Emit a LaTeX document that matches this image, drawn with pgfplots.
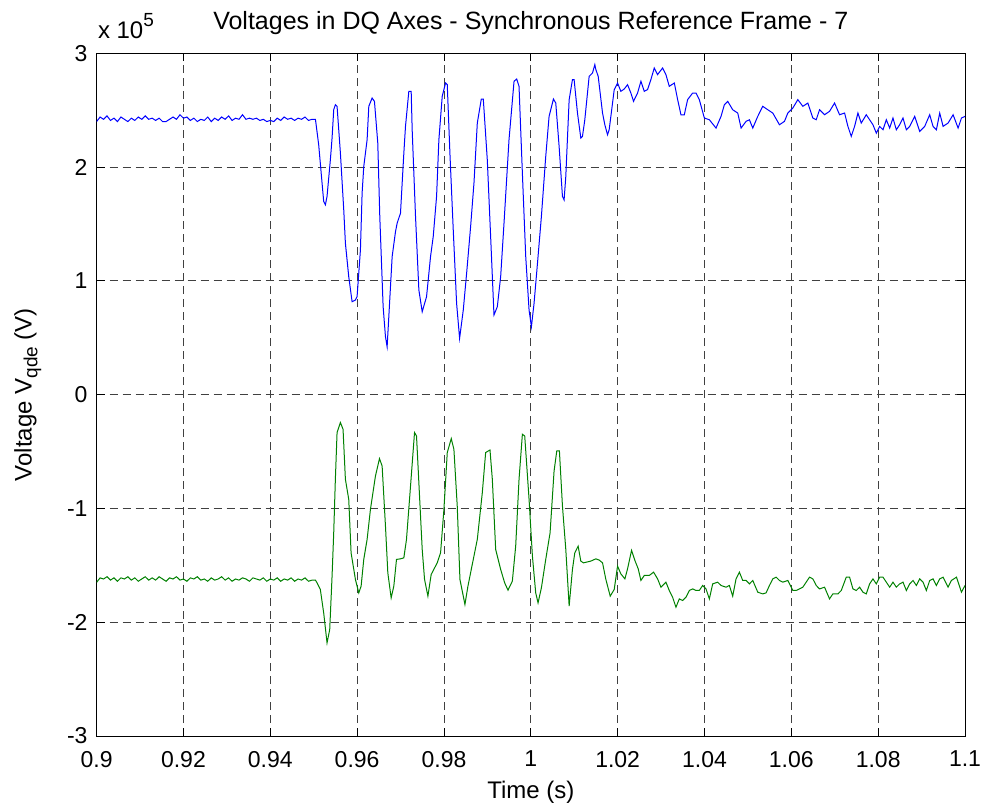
\documentclass[border=0pt]{standalone}
\usepackage{fontspec}
\setmainfont{Liberation Sans}
\usepackage{pgfplots}
\pgfplotsset{compat=1.18}

\definecolor{mblue}{RGB}{0,0,255}
\definecolor{mgreen}{RGB}{0,128,0}

\begin{document}
\begin{tikzpicture}
\begin{axis}[
    at={(0,0)}, anchor=south west,
    scale only axis,
    width=434.2pt, height=341.35pt,
    xmin=0.9, xmax=1.1,
    ymin=-3, ymax=3,
    xtick={0.9,0.92,0.94,0.96,0.98,1,1.02,1.04,1.06,1.08,1.1},
    xticklabels={0.9,0.92,0.94,0.96,0.98,1,1.02,1.04,1.06,1.08,1.1},
    ytick={-3,-2,-1,0,1,2,3},
    yticklabels={-3,-2,-1,0,1,2,3},
    tick align=inside,
    xtick pos=both, ytick pos=both,
    major tick length=4pt,
    tick style={black, line width=0.4pt},
    grid=major,
    major grid style={black!75, line width=0.4pt, dash pattern=on 4pt off 2.5pt},
    axis line style={black, line width=0.5pt},
    every tick label/.append style={font=\fontsize{11.5}{13}\selectfont},
    xticklabel style={yshift=-4pt},
    yticklabel style={xshift=-1pt},
    title={Voltages in DQ Axes - Synchronous Reference Frame - 7},
    title style={font=\fontsize{12.5}{14}\selectfont, yshift=0pt},
    xlabel={Time (s)},
    ylabel={Voltage V\raisebox{-0.45ex}{\fontsize{9.5}{10}\selectfont qde} (V)},
    label style={font=\fontsize{12}{14}\selectfont},
    xlabel style={yshift=0pt},
    ylabel style={yshift=6pt},
    clip=true,
]

% Vq (x 10^5 V)
\addplot[mblue, line width=0.5pt] coordinates {
(0.9000,2.40)(0.9008,2.44)(0.9016,2.42)(0.9024,2.45)(0.9032,2.41)(0.9040,2.43)(0.9048,2.40)(0.9056,2.44)
(0.9064,2.42)(0.9072,2.40)(0.9080,2.43)(0.9088,2.41)(0.9096,2.44)(0.9104,2.42)(0.9112,2.45)(0.9120,2.42)
(0.9128,2.43)(0.9136,2.41)(0.9144,2.43)(0.9152,2.40)(0.9160,2.40)(0.9168,2.42)(0.9176,2.44)(0.9184,2.42)
(0.9192,2.46)(0.9200,2.43)(0.9208,2.44)(0.9216,2.41)(0.9224,2.43)(0.9232,2.40)(0.9240,2.42)(0.9248,2.41)
(0.9256,2.44)(0.9264,2.40)(0.9272,2.43)(0.9280,2.41)(0.9288,2.44)(0.9296,2.42)(0.9304,2.45)(0.9312,2.41)
(0.9320,2.43)(0.9328,2.42)(0.9336,2.46)(0.9344,2.42)(0.9352,2.43)(0.9360,2.42)(0.9368,2.43)(0.9376,2.41)
(0.9384,2.42)(0.9392,2.40)(0.9400,2.41)(0.9408,2.40)(0.9416,2.43)(0.9424,2.41)(0.9432,2.44)(0.9440,2.42)
(0.9448,2.43)(0.9456,2.41)(0.9464,2.43)(0.9472,2.42)(0.9480,2.44)(0.9488,2.41)(0.9496,2.42)(0.9504,2.42)
(0.95115,2.196)(0.95230,1.698)(0.95269,1.668)(0.95307,1.742)(0.95384,2.064)(0.95423,2.255)(0.95461,2.504)
(0.95499,2.548)(0.95538,2.534)(0.95615,2.123)(0.95692,1.624)(0.95730,1.331)(0.95807,1.037)(0.95884,0.817)
(0.95961,0.832)(0.95999,0.861)(0.96076,1.272)(0.96115,1.771)(0.96153,2.006)(0.96230,2.240)(0.96269,2.534)
(0.96345,2.607)(0.96399,2.578)(0.96476,2.211)(0.96522,1.566)(0.96599,0.773)(0.96653,0.509)(0.96691,0.421)
(0.96730,0.685)(0.96807,1.214)(0.96884,1.433)(0.96922,1.507)(0.96999,1.595)(0.97076,2.123)(0.97114,2.358)
(0.97191,2.666)(0.97245,2.666)(0.97268,2.328)(0.97345,1.566)(0.97422,0.920)(0.97499,0.729)(0.97599,0.861)
(0.97691,1.214)(0.97753,1.390)(0.97830,1.742)(0.97883,2.240)(0.97960,2.622)(0.98037,2.739)(0.98076,2.725)
(0.98137,2.123)(0.98214,1.448)(0.98291,0.803)(0.98360,0.495)(0.98445,0.744)(0.98522,1.067)(0.98614,1.478)
(0.98691,1.859)(0.98768,2.387)(0.98860,2.598)(0.98906,2.598)(0.98998,2.064)(0.99075,1.390)(0.99152,0.700)
(0.99229,0.773)(0.99306,1.037)(0.99383,1.507)(0.99498,2.240)(0.99614,2.754)(0.99675,2.774)(0.99729,2.710)
(0.99806,1.947)(0.99883,1.214)(0.99960,0.744)(1.00014,0.597)(1.00075,0.803)(1.00167,1.214)(1.00244,1.566)
(1.00344,2.094)(1.00421,2.446)(1.00521,2.598)(1.00575,2.563)(1.00652,2.182)(1.00729,1.742)(1.00767,1.712)
(1.00806,1.918)(1.00883,2.592)(1.00959,2.768)(1.00998,2.768)(1.01075,2.475)(1.01152,2.255)(1.01190,2.270)
(1.01244,2.416)(1.01344,2.798)(1.01421,2.827)(1.01475,2.901)(1.01498,2.857)(1.01552,2.798)(1.01652,2.475)
(1.01705,2.372)(1.01767,2.284)(1.01805,2.328)(1.01921,2.680)(1.01998,2.739)(1.02074,2.666)(1.02151,2.686)
(1.02228,2.724)(1.02305,2.651)(1.02366,2.578)(1.02459,2.651)(1.02536,2.754)(1.02613,2.666)(1.02689,2.681)
(1.02766,2.769)(1.02843,2.871)(1.02920,2.813)(1.03035,2.871)(1.03112,2.813)(1.03189,2.710)(1.03305,2.739)
(1.03382,2.593)(1.03458,2.460)(1.03535,2.460)(1.03612,2.593)(1.03728,2.651)(1.03804,2.651)(1.03881,2.593)
(1.03997,2.431)(1.04112,2.416)(1.04266,2.343)(1.04381,2.446)(1.04458,2.548)(1.04535,2.578)(1.04650,2.504)
(1.04766,2.475)(1.04843,2.343)(1.04958,2.402)(1.05035,2.416)(1.05112,2.343)(1.05227,2.446)(1.05342,2.534)
(1.05458,2.504)(1.05573,2.475)(1.05727,2.372)(1.05842,2.402)(1.05919,2.475)(1.06035,2.519)(1.06150,2.593)
(1.06265,2.534)(1.06381,2.563)(1.06496,2.431)(1.06573,2.416)(1.06650,2.504)(1.06765,2.460)(1.06880,2.490)
(1.06996,2.563)(1.07111,2.460)(1.07227,2.475)(1.07303,2.358)(1.07380,2.270)(1.07457,2.358)(1.07534,2.475)
(1.07611,2.387)(1.07726,2.460)(1.07803,2.416)(1.07880,2.372)(1.07957,2.299)(1.08034,2.358)(1.08111,2.328)
(1.08188,2.416)(1.08265,2.343)(1.08341,2.431)(1.08418,2.328)(1.08495,2.372)(1.08572,2.431)(1.08649,2.328)
(1.08726,2.358)(1.08841,2.446)(1.08957,2.314)(1.09072,2.358)(1.09187,2.460)(1.09264,2.358)(1.09341,2.328)
(1.09418,2.475)(1.09495,2.358)(1.09610,2.387)(1.09726,2.460)(1.09841,2.343)(1.09918,2.431)(1.10000,2.446)
};

% Vd (x 10^5 V)
\addplot[mgreen, line width=0.5pt] coordinates {
(0.9000,-1.65)(0.9008,-1.61)(0.9016,-1.62)(0.9024,-1.60)(0.9032,-1.63)(0.9040,-1.61)(0.9048,-1.64)(0.9056,-1.61)
(0.9064,-1.62)(0.9072,-1.60)(0.9080,-1.63)(0.9088,-1.61)(0.9096,-1.64)(0.9104,-1.62)(0.9112,-1.60)(0.9120,-1.63)
(0.9128,-1.61)(0.9136,-1.63)(0.9144,-1.60)(0.9152,-1.62)(0.9160,-1.64)(0.9168,-1.61)(0.9176,-1.62)(0.9184,-1.60)
(0.9192,-1.63)(0.9200,-1.62)(0.9208,-1.64)(0.9216,-1.61)(0.9224,-1.62)(0.9232,-1.60)(0.9240,-1.63)(0.9248,-1.62)
(0.9256,-1.64)(0.9264,-1.61)(0.9272,-1.63)(0.9280,-1.62)(0.9288,-1.60)(0.9296,-1.63)(0.9304,-1.61)(0.9312,-1.64)
(0.9320,-1.62)(0.9328,-1.63)(0.9336,-1.61)(0.9344,-1.62)(0.9352,-1.64)(0.9360,-1.61)(0.9368,-1.62)(0.9376,-1.63)
(0.9384,-1.61)(0.9392,-1.64)(0.9400,-1.62)(0.9408,-1.63)(0.9416,-1.61)(0.9424,-1.64)(0.9432,-1.62)(0.9440,-1.63)
(0.9448,-1.61)(0.9456,-1.64)(0.9464,-1.62)(0.9472,-1.63)(0.9480,-1.61)(0.9488,-1.64)(0.9496,-1.63)(0.9504,-1.63)
(0.95077,-1.654)(0.95153,-1.712)(0.95230,-1.918)(0.95307,-2.182)(0.95369,-2.064)(0.95423,-1.595)(0.95461,-1.214)
(0.95499,-0.744)(0.95538,-0.333)(0.95615,-0.245)(0.95676,-0.304)(0.95730,-0.744)(0.95807,-0.920)(0.95861,-1.390)
(0.95961,-1.624)(0.96038,-1.742)(0.96092,-1.683)(0.96153,-1.448)(0.96230,-1.272)(0.96307,-1.008)(0.96422,-0.715)
(0.96515,-0.562)(0.96576,-0.627)(0.96653,-1.155)(0.96707,-1.566)(0.96784,-1.786)(0.96845,-1.683)(0.96907,-1.448)
(0.96999,-1.443)(0.97076,-1.434)(0.97137,-1.272)(0.97230,-0.803)(0.97322,-0.333)(0.97368,-0.363)(0.97422,-0.774)
(0.97499,-1.360)(0.97553,-1.624)(0.97630,-1.771)(0.97706,-1.580)(0.97845,-1.478)(0.97922,-1.390)(0.97999,-1.008)
(0.98076,-0.509)(0.98168,-0.386)(0.98229,-0.480)(0.98306,-0.979)(0.98368,-1.624)(0.98483,-1.844)(0.98552,-1.683)
(0.98652,-1.492)(0.98768,-1.272)(0.98883,-0.862)(0.98960,-0.509)(0.99060,-0.486)(0.99114,-0.744)(0.99191,-1.360)
(0.99306,-1.536)(0.99398,-1.654)(0.99475,-1.718)(0.99575,-1.639)(0.99652,-1.331)(0.99729,-0.744)(0.99806,-0.348)
(0.99860,-0.363)(0.99960,-0.920)(1.00037,-1.419)(1.00113,-1.742)(1.00167,-1.830)(1.00244,-1.698)(1.00344,-1.448)
(1.00444,-1.214)(1.00536,-0.671)(1.00598,-0.495)(1.00659,-0.495)(1.00729,-0.979)(1.00806,-1.360)(1.00883,-1.859)
(1.00959,-1.536)(1.01013,-1.390)(1.01090,-1.331)(1.01152,-1.463)(1.01213,-1.478)(1.01382,-1.463)(1.01498,-1.443)
(1.01575,-1.454)(1.01652,-1.478)(1.01729,-1.624)(1.01829,-1.771)(1.01921,-1.712)(1.01998,-1.507)(1.02074,-1.575)
(1.02167,-1.619)(1.02228,-1.531)(1.02320,-1.369)(1.02397,-1.457)(1.02474,-1.531)(1.02536,-1.633)(1.02613,-1.589)
(1.02728,-1.589)(1.02828,-1.560)(1.02920,-1.619)(1.02997,-1.692)(1.03112,-1.648)(1.03189,-1.721)(1.03266,-1.780)
(1.03343,-1.868)(1.03420,-1.795)(1.03497,-1.809)(1.03574,-1.780)(1.03651,-1.721)(1.03728,-1.707)(1.03804,-1.721)
(1.03881,-1.721)(1.03958,-1.677)(1.04035,-1.707)(1.04112,-1.795)(1.04189,-1.663)(1.04304,-1.648)(1.04381,-1.677)
(1.04497,-1.692)(1.04573,-1.677)(1.04650,-1.771)(1.04727,-1.619)(1.04804,-1.560)(1.04881,-1.633)(1.04958,-1.633)
(1.05035,-1.663)(1.05112,-1.633)(1.05227,-1.736)(1.05342,-1.751)(1.05419,-1.742)(1.05496,-1.677)(1.05573,-1.619)
(1.05650,-1.604)(1.05727,-1.633)(1.05804,-1.648)(1.05919,-1.633)(1.06035,-1.721)(1.06111,-1.721)(1.06188,-1.707)
(1.06265,-1.692)(1.06342,-1.648)(1.06419,-1.604)(1.06496,-1.619)(1.06573,-1.677)(1.06650,-1.707)(1.06765,-1.692)
(1.06880,-1.795)(1.06957,-1.751)(1.07073,-1.751)(1.07150,-1.721)(1.07265,-1.604)(1.07342,-1.604)(1.07419,-1.707)
(1.07496,-1.721)(1.07573,-1.692)(1.07650,-1.736)(1.07726,-1.751)(1.07803,-1.663)(1.07880,-1.619)(1.07957,-1.663)
(1.08034,-1.604)(1.08111,-1.604)(1.08188,-1.648)(1.08265,-1.692)(1.08341,-1.648)(1.08418,-1.692)(1.08495,-1.663)
(1.08572,-1.648)(1.08649,-1.721)(1.08726,-1.663)(1.08803,-1.633)(1.08880,-1.677)(1.08957,-1.619)(1.09034,-1.648)
(1.09110,-1.721)(1.09187,-1.633)(1.09264,-1.619)(1.09341,-1.677)(1.09418,-1.619)(1.09495,-1.604)(1.09610,-1.692)
(1.09687,-1.633)(1.09803,-1.604)(1.09918,-1.736)(1.10000,-1.677)
};
\end{axis}
\node[anchor=base west, font=\fontsize{12}{14}\selectfont, inner sep=0pt]
  at (0.5pt,348.8pt) {x 10\raisebox{0.9ex}{\fontsize{9.5}{10}\selectfont 5}};
\pgfresetboundingbox
\path[use as bounding box] (-48.3pt,-37pt) rectangle (443.7pt,368pt);
\end{tikzpicture}
\end{document}
